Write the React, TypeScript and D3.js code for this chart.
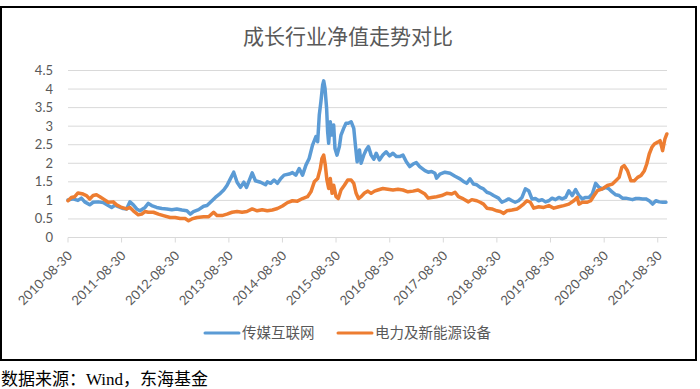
import { line, scaleLinear, scaleTime, timeParse } from "d3";

const title = "成长行业净值走势对比";
const source = "数据来源：Wind，东海基金";
const seriesNames = ["传媒互联网", "电力及新能源设备"];
const seriesColors = ["#5B9BD5", "#ED7D31"];

const yTicks = [0, 0.5, 1, 1.5, 2, 2.5, 3, 3.5, 4, 4.5];
const xTickLabels = [
  "2010-08-30", "2011-08-30", "2012-08-30", "2013-08-30", "2014-08-30", "2015-08-30",
  "2016-08-30", "2017-08-30", "2018-08-30", "2019-08-30", "2020-08-30", "2021-08-30",
];

// 传媒互联网
const mediaDates = [
  "2010-08-30", "2010-10-03", "2010-11-06", "2010-11-29", "2010-12-22", "2011-01-25", "2011-02-17",
  "2011-03-23", "2011-04-27", "2011-05-31", "2011-06-23", "2011-07-15", "2011-08-07", "2011-09-10",
  "2011-10-03", "2011-10-26", "2011-11-18", "2011-12-11", "2012-01-02", "2012-02-06", "2012-02-28",
  "2012-03-22", "2012-04-25", "2012-05-30", "2012-07-03", "2012-08-06", "2012-09-09", "2012-10-14",
  "2012-11-17", "2012-12-10", "2013-01-01", "2013-02-05", "2013-03-11", "2013-04-03", "2013-05-07",
  "2013-05-30", "2013-07-03", "2013-07-26", "2013-08-17", "2013-09-09", "2013-10-02", "2013-10-25",
  "2013-11-17", "2013-12-10", "2013-12-28", "2014-01-24", "2014-02-05", "2014-02-27", "2014-04-03",
  "2014-05-07", "2014-05-19", "2014-06-11", "2014-07-04", "2014-07-27", "2014-08-19", "2014-09-10",
  "2014-10-15", "2014-11-06", "2014-11-29", "2014-12-22", "2015-01-14", "2015-02-06", "2015-02-28",
  "2015-03-23", "2015-04-15", "2015-04-27", "2015-05-08", "2015-05-19", "2015-05-31", "2015-06-07",
  "2015-06-16", "2015-06-27", "2015-07-04", "2015-07-11", "2015-07-22", "2015-07-31", "2015-08-14",
  "2015-08-23", "2015-09-06", "2015-09-22", "2015-10-03", "2015-10-21", "2015-11-06", "2015-11-22",
  "2015-12-11", "2015-12-29", "2016-01-09", "2016-01-21", "2016-02-06", "2016-02-17", "2016-03-06",
  "2016-03-22", "2016-04-07", "2016-04-25", "2016-05-14", "2016-05-30", "2016-06-21", "2016-07-14",
  "2016-08-06", "2016-08-29", "2016-09-21", "2016-10-14", "2016-11-05", "2016-11-28", "2016-12-21",
  "2017-01-13", "2017-02-05", "2017-02-27", "2017-03-22", "2017-04-27", "2017-05-19", "2017-06-11",
  "2017-07-04", "2017-07-15", "2017-08-07", "2017-09-10", "2017-10-15", "2017-11-18", "2017-12-22",
  "2018-01-14", "2018-02-06", "2018-02-28", "2018-03-23", "2018-04-15", "2018-05-08", "2018-05-31",
  "2018-06-23", "2018-07-15", "2018-08-07", "2018-09-10", "2018-10-03", "2018-10-26", "2018-11-18",
  "2018-12-11", "2019-01-02", "2019-01-25", "2019-02-17", "2019-03-12", "2019-04-04", "2019-04-26",
  "2019-05-19", "2019-06-11", "2019-07-04", "2019-07-27", "2019-08-19", "2019-09-10", "2019-10-03",
  "2019-10-26", "2019-11-18", "2019-12-11", "2020-01-02", "2020-01-25", "2020-02-17", "2020-03-11",
  "2020-04-03", "2020-04-25", "2020-05-18", "2020-06-10", "2020-07-03", "2020-07-26", "2020-08-17",
  "2020-09-09", "2020-10-02", "2020-10-25", "2020-11-17", "2020-12-10", "2021-01-01", "2021-01-24",
  "2021-02-16", "2021-03-11", "2021-04-03", "2021-04-25", "2021-05-18", "2021-06-10", "2021-07-03",
  "2021-07-26", "2021-08-17", "2021-09-09", "2021-10-02", "2021-10-25",
];
const mediaValues = [
  1.01, 1.04, 1.0, 1.06, 0.96, 0.88, 0.95,
  0.96, 0.94, 0.86, 0.81, 0.87, 0.83, 0.78,
  0.77, 0.96, 0.88, 0.77, 0.72, 0.81, 0.92,
  0.86, 0.81, 0.78, 0.77, 0.75, 0.77, 0.74,
  0.72, 0.63, 0.7, 0.75, 0.84, 0.86, 0.99,
  1.08, 1.19, 1.28, 1.4, 1.58, 1.76, 1.49,
  1.35, 1.49, 1.35, 1.62, 1.74, 1.53, 1.49,
  1.42, 1.5, 1.46, 1.55, 1.46, 1.59, 1.68,
  1.71, 1.75, 1.68, 1.86, 1.68, 1.95, 2.13,
  2.49, 2.72, 2.58, 3.3, 3.66, 4.11, 4.22,
  4.02, 3.48, 2.85, 2.54, 3.12, 2.76, 3.03,
  2.4, 2.22, 2.45, 2.76, 2.94, 3.08, 3.08,
  3.12, 2.94, 2.49, 2.04, 2.36, 2.0, 2.22,
  2.36, 2.45, 2.22, 2.11, 2.27, 2.09, 2.22,
  2.31, 2.2, 2.27, 2.18, 2.18, 2.22, 2.04,
  1.91, 1.98, 2.02, 1.91, 1.8, 1.76, 1.78,
  1.73, 1.6, 1.71, 1.76, 1.73, 1.65, 1.58,
  1.51, 1.46, 1.58, 1.44, 1.42, 1.35, 1.31,
  1.22, 1.19, 1.13, 1.06, 0.95, 0.99, 1.04,
  0.99, 0.95, 0.99, 1.08, 1.31, 1.26, 1.04,
  1.05, 0.99, 1.02, 0.96, 0.99, 1.06, 1.02,
  1.08, 1.04, 1.08, 1.26, 1.13, 1.29, 1.13,
  1.04, 1.08, 1.08, 1.17, 1.46, 1.35, 1.31,
  1.35, 1.31, 1.22, 1.15, 1.13, 1.06, 1.06,
  1.04, 1.02, 1.05, 1.05, 1.04, 1.04, 0.99,
  0.9, 0.99, 0.96, 0.95, 0.95,
];

// 电力及新能源设备
const powerDates = [
  "2010-08-30", "2010-09-22", "2010-10-15", "2010-11-06", "2010-12-11", "2011-01-02", "2011-01-25",
  "2011-02-17", "2011-03-12", "2011-04-04", "2011-04-27", "2011-05-31", "2011-07-04", "2011-07-27",
  "2011-08-30", "2011-10-03", "2011-10-26", "2011-11-18", "2011-12-22", "2012-01-14", "2012-02-06",
  "2012-02-28", "2012-04-03", "2012-05-07", "2012-06-10", "2012-07-26", "2012-08-29", "2012-10-02",
  "2012-11-05", "2012-11-28", "2012-12-21", "2013-01-24", "2013-03-11", "2013-04-14", "2013-05-18",
  "2013-06-10", "2013-07-14", "2013-08-17", "2013-09-21", "2013-10-25", "2013-11-28", "2013-12-31",
  "2014-02-05", "2014-03-11", "2014-04-14", "2014-05-19", "2014-06-22", "2014-07-27", "2014-08-30",
  "2014-10-03", "2014-11-06", "2014-12-10", "2015-01-14", "2015-02-17", "2015-03-12", "2015-04-04",
  "2015-04-27", "2015-05-15", "2015-05-26", "2015-06-07", "2015-06-18", "2015-06-29", "2015-07-11",
  "2015-07-22", "2015-08-03", "2015-08-14", "2015-08-30", "2015-09-15", "2015-10-03", "2015-10-26",
  "2015-11-18", "2015-12-11", "2015-12-29", "2016-01-14", "2016-01-30", "2016-02-17", "2016-03-11",
  "2016-04-03", "2016-04-25", "2016-05-18", "2016-06-10", "2016-07-14", "2016-08-17", "2016-09-21",
  "2016-10-25", "2016-11-28", "2017-01-01", "2017-02-05", "2017-03-11", "2017-04-27", "2017-05-19",
  "2017-06-11", "2017-07-15", "2017-08-19", "2017-09-22", "2017-10-26", "2017-11-18", "2017-12-11",
  "2018-01-14", "2018-02-17", "2018-03-12", "2018-04-15", "2018-05-08", "2018-05-31", "2018-06-23",
  "2018-07-27", "2018-08-30", "2018-09-22", "2018-10-15", "2018-11-06", "2018-12-11", "2019-01-14",
  "2019-02-06", "2019-02-28", "2019-03-23", "2019-04-15", "2019-05-08", "2019-06-11", "2019-07-15",
  "2019-08-19", "2019-09-22", "2019-10-26", "2019-11-28", "2020-01-02", "2020-02-05", "2020-02-28",
  "2020-03-11", "2020-04-03", "2020-05-07", "2020-05-30", "2020-06-22", "2020-07-15", "2020-08-17",
  "2020-09-21", "2020-10-25", "2020-11-17", "2020-12-10", "2020-12-28", "2021-01-13", "2021-02-05",
  "2021-02-28", "2021-03-23", "2021-04-15", "2021-05-08", "2021-05-31", "2021-06-16", "2021-07-03",
  "2021-07-21", "2021-08-07", "2021-08-30", "2021-09-15", "2021-10-02", "2021-10-18", "2021-10-31",
];
const powerValues = [
  0.99, 1.08, 1.1, 1.2, 1.17, 1.13, 1.04,
  1.13, 1.15, 1.1, 1.04, 0.95, 0.96, 0.88,
  0.81, 0.77, 0.81, 0.72, 0.61, 0.63, 0.7,
  0.68, 0.68, 0.63, 0.59, 0.54, 0.54, 0.51,
  0.51, 0.45, 0.5, 0.54, 0.56, 0.56, 0.68,
  0.59, 0.59, 0.63, 0.68, 0.7, 0.68, 0.7,
  0.77, 0.72, 0.75, 0.72, 0.74, 0.78, 0.85,
  0.94, 0.99, 0.98, 1.05, 1.1, 1.23, 1.5,
  1.59, 1.86, 2.13, 2.22, 1.95, 1.55, 1.32,
  1.59, 1.19, 1.41, 1.1, 1.05, 1.28, 1.41,
  1.55, 1.55, 1.46, 1.19, 1.05, 1.1, 1.2,
  1.25, 1.19, 1.25, 1.28, 1.32, 1.3, 1.28,
  1.3, 1.28, 1.23, 1.25, 1.28, 1.17, 1.06,
  1.08, 1.1, 1.13, 1.19, 1.17, 1.22, 1.1,
  1.04, 0.96, 1.02, 0.99, 0.95, 0.9, 0.79,
  0.77, 0.72, 0.7, 0.65, 0.72, 0.74, 0.77,
  0.83, 0.9, 0.99, 0.95, 0.79, 0.83, 0.81,
  0.86, 0.79, 0.83, 0.86, 0.9, 0.99, 1.08,
  0.9, 0.95, 0.95, 0.99, 1.13, 1.26, 1.31,
  1.4, 1.44, 1.53, 1.62, 1.89, 1.94, 1.8,
  1.53, 1.53, 1.62, 1.67, 1.8, 1.98, 2.25,
  2.43, 2.52, 2.57, 2.61, 2.34, 2.66, 2.79,
];

const parse = timeParse("%Y-%m-%d");

export default function App() {
  const x = scaleTime()
    .domain([parse("2010-08-30")!, parse("2021-11-01")!])
    .range([68, 667]);
  const y = scaleLinear().domain([0, 4.5]).range([237.5, 70.5]);

  const path = line<[Date, number]>()
    .x((d) => x(d[0]))
    .y((d) => y(d[1]));

  const series = [
    mediaDates.map((d, i) => [parse(d)!, mediaValues[i]] as [Date, number]),
    powerDates.map((d, i) => [parse(d)!, powerValues[i]] as [Date, number]),
  ];

  const [x0, x1] = x.range();
  const labelFont = "Lato, 'Open Sans', sans-serif";
  const cjkFont = "'Noto Sans CJK SC', sans-serif";

  return (
    <div style={{ position: "absolute", left: 0, top: 0 }}>
      <svg width={700} height={389} style={{ display: "block" }}>
        <rect width={700} height={389} fill="#fff" />
        <rect x={1} y={7} width={695} height={353} fill="#fff" stroke="#000" strokeWidth={2} />

        <text x={348} y={44} textAnchor="middle" fontFamily={cjkFont} fontSize={21} fill="#595959">
          {title}
        </text>

        {yTicks.map((t) => (
          <g key={`y-${t}`}>
            <line x1={x0} x2={x1} y1={y(t)} y2={y(t)} stroke="#D9D9D9" strokeWidth={1} />
            <text
              x={53}
              y={y(t)}
              dy="0.35em"
              textAnchor="end"
              fontFamily={labelFont}
              fontSize={13}
              fill="#595959"
            >
              {t}
            </text>
          </g>
        ))}

        {xTickLabels.map((label) => {
          const px = x(parse(label)!);
          return (
            <g key={`x-${label}`}>
              <line x1={px} x2={px} y1={y(0)} y2={y(0) + 5} stroke="#D9D9D9" />
              <text
                transform={`translate(${px + 5}, ${y(0) + 19}) rotate(-45)`}
                textAnchor="end"
                fontFamily={labelFont}
                fontSize={13}
                fill="#595959"
              >
                {label}
              </text>
            </g>
          );
        })}

        {series.map((s, i) => (
          <path
            key={seriesNames[i]}
            d={path(s) ?? ""}
            fill="none"
            stroke={seriesColors[i]}
            strokeWidth={3.5}
            strokeLinejoin="round"
            strokeLinecap="round"
          />
        ))}

        {seriesNames.map((name, i) => {
          const lx = i === 0 ? 205 : 338;
          return (
            <g key={`legend-${name}`}>
              <line x1={lx} x2={lx + 34} y1={333} y2={333} stroke={seriesColors[i]} strokeWidth={3} strokeLinecap="round" />
              <text x={lx + 37} y={333} dy="0.36em" fontFamily={cjkFont} fontSize={14.5} fill="#595959">
                {name}
              </text>
            </g>
          );
        })}

        <text x={1} y={385} fontFamily="'Liberation Serif', 'Noto Sans CJK SC', serif" fontSize={17} fill="#000">
          {source}
        </text>
      </svg>
    </div>
  );
}
